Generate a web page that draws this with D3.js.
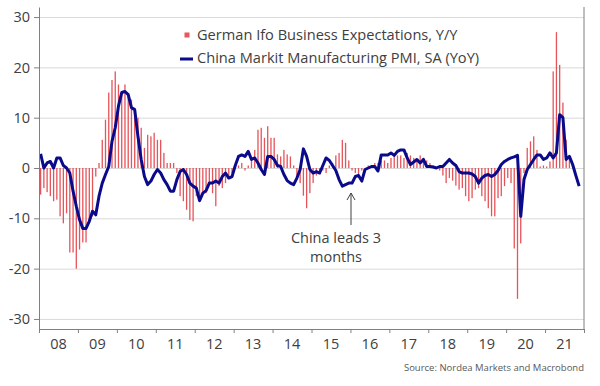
<!DOCTYPE html>
<html>
<head>
<meta charset="utf-8">
<script src="https://cdn.jsdelivr.net/npm/d3@7"></script>
<style>
  body { margin: 0; background: #fff; }
  text { font-family: "Open Sans", sans-serif; fill: #404040; }
</style>
</head>
<body>
<script>
// year labels on the x axis (one per year, Jan 2008 - Dec 2021)
var years = ["08", "09", "10", "11", "12", "13", "14", "15", "16", "17", "18", "19", "20", "21"];
var yTicks = [-30, -20, -10, 0, 10, 20, 30];

// German Ifo Business Expectations, Y/Y - monthly from Jan 2008
var ifoYoY = [
  -5.3, -4, -4.8, -5.6, -6.6, -6.3, -9.6, -11, -9, -16.8, -16.8, -20,
  -16.2, -14.8, -14.8, -11, -9.6, -1.7, 1, 5.6, 9.6, 15, 17.5, 19.2,
  16.6, 15, 16.6, 14.2, 13.6, 11.6, 10, 8, 4, 6.6, 6.3, 7,
  5.6, 5.6, 3, 1, 1, 1, -1, -5.6, -6.6, -8.3, -10.3, -10.6,
  -5.6, -6.6, -5, -5, -3, -5, -7.6, -3.6, -4, -3, -2, -1,
  0.3, 0.5, 1, -0.5, 0.5, 1.5, 3.6, 7.6, 8, 6, 8.3, 6,
  6, 2.7, 2.3, 3.6, 2.7, 2.3, 0.5, -1.5, -3, -5.5, -8, -5,
  -3, -1.5, -0.5, -0.5, -1, 0.5, 1, 2.5, 3, 5.6, 5, 1.5,
  -0.5, -1, -1.5, -0.5, 0, 0.5, 0.5, 1, 1, 1.5, 1.5, 1,
  2, 2.5, 2.5, 2.5, 2, 3, 2.5, 2, 1.5, 2.5, 2, 1.5,
  1, 0.5, 0, -0.5, -1.5, -3, -2, -2.5, -3.5, -4.3, -4, -5.6,
  -6.6, -6, -4.3, -4, -5.6, -6.6, -8, -9.6, -9.6, -6, -5.6, -3.6,
  -2, -3, -16, -26, -15, -1, 4, 5.3, 6.3, 3.6, 0.3, 0.5,
  0.3, 1.3, 19.2, 27, 20.5, 13, 5.6, 2.3
];

// China Markit Manufacturing PMI, SA (YoY), shifted 3 months - monthly from Jan 2008
var chinaPmiYoY = [
  2.8, 0, 1, 1.3, 0, 2, 2, 0.5, 0, -1, -4.6, -7.6,
  -10.3, -12, -12, -10.6, -8.6, -9.3, -5.6, -3, -1.3, 0.3, 5.3, 8,
  12.3, 15, 15.2, 14.6, 12, 11.6, 6.3, 1.7, -1.7, -3.3, -2.6, -1.3,
  -0.3, -1, -2.3, -3.3, -4.6, -4.6, -2.3, -0.7, -0.3, -1.3, -3, -3.6,
  -4, -6.5, -5, -4.5, -3, -3, -2.6, -3, -1.7, -1, -2, -1.7,
  0.5, 2.3, 2.6, 2.3, 3.3, 1.7, 2, 1, -0.3, -1.3, 2.3, 2.3,
  1.7, 0.5, 0.3, -1.3, -2.5, -3, -3.3, -2, -0.3, 3.8, 2.3, -0.3,
  -1, -0.7, -1, 0.5, 2, 1.5, 0.5, -0.5, -2.3, -3.6, -3.3, -3,
  -3, -1.7, -1.5, -2.6, -0.3, 0, 0.3, 0.3, -0.6, 2.6, 2.6, 2.6,
  3, 2.5, 3.3, 3.6, 3.6, 2, 0.7, 1.2, 1.7, 1, 1.7, 0.3,
  0.3, 0.2, 0, 0.3, 0.3, 1, 1.7, 1, 0.5, -0.7, -1, -1,
  -1, -1.2, -1.7, -3, -2, -1.5, -1.3, -1.7, -1.3, -0.5, 0.7, 1.3,
  1.7, 2, 2.2, 2.5, -9.6, -2.3, -0.3, 0.7, 1.7, 2.6, 2.6, 1.7,
  2, 3, 2, 3, 10.6, 10, 1.7, 2.3, 0.7, -1.5, -3.6
];

var svgWidth = 600;
var svgHeight = 386;

var margin = { top: 7, right: 16, bottom: 57, left: 39 };

var chartWidth = svgWidth - margin.left - margin.right;
var chartHeight = svgHeight - margin.top - margin.bottom;

var svg = d3.select("body")
  .append("svg")
  .attr("width", svgWidth)
  .attr("height", svgHeight);

var chartGroup = svg.append("g")
  .attr("transform", `translate(${margin.left}, ${margin.top})`);

// month index scale: 0 = Jan 2008, 168 = Jan 2022
var xScale = d3.scaleLinear()
  .domain([0, years.length * 12])
  .range([0, chartWidth]);

var yScale = d3.scaleLinear()
  .domain([-32, 32])
  .range([chartHeight, 0]);

// gridlines
chartGroup.append("g")
  .attr("class", "grid")
  .call(d3.axisLeft(yScale).tickValues(yTicks).tickSize(-chartWidth).tickFormat(""))
  .call(g => g.select(".domain").remove())
  .call(g => g.selectAll("line").attr("stroke", "#d9d9d9"));

// Ifo bars
chartGroup.selectAll("rect.ifo")
  .data(ifoYoY)
  .enter()
  .append("rect")
  .attr("class", "ifo")
  .attr("x", (d, i) => xScale(i + 0.5) - 0.65)
  .attr("width", 1.3)
  .attr("y", d => yScale(Math.max(0, d)))
  .attr("height", d => Math.abs(yScale(d) - yScale(0)))
  .attr("fill", "#e5545a");

// China PMI line
var line = d3.line()
  .x((d, i) => xScale(i + 0.5))
  .y(d => yScale(d));

chartGroup.append("path")
  .datum(chinaPmiYoY)
  .attr("d", line)
  .attr("fill", "none")
  .attr("stroke", "#0a0a8a")
  .attr("stroke-width", 3)
  .attr("stroke-linejoin", "round");

// left axis
var leftAxis = d3.axisLeft(yScale).tickValues(yTicks).tickSize(5).tickSizeOuter(0).tickPadding(4);
chartGroup.append("g")
  .call(leftAxis)
  .call(g => g.select(".domain").attr("stroke", "#808080"))
  .call(g => g.selectAll(".tick line").attr("stroke", "#808080"))
  .call(g => g.selectAll("text").attr("font-size", "14.5px").attr("fill", "#404040")
    .attr("font-family", "'Open Sans', sans-serif").text(d => d < 0 ? "-" + Math.abs(d) : d));

// bottom axis (ticks at year boundaries)
var bottomAxis = d3.axisBottom(xScale)
  .tickValues(d3.range(0, years.length * 12 + 1, 12))
  .tickSize(4).tickSizeOuter(0).tickFormat("");
chartGroup.append("g")
  .attr("transform", "translate(0, " + chartHeight + ")")
  .call(bottomAxis)
  .call(g => g.select(".domain").attr("stroke", "#808080"))
  .call(g => g.selectAll(".tick line").attr("stroke", "#808080"));

// year labels, centred between ticks
chartGroup.selectAll("text.year")
  .data(years)
  .enter()
  .append("text")
  .attr("class", "year")
  .attr("x", (d, i) => xScale(i * 12 + 6))
  .attr("y", chartHeight + 20)
  .attr("text-anchor", "middle")
  .attr("font-size", "14.5px")
  .text(d => d);

// right border
chartGroup.append("line")
  .attr("x1", chartWidth).attr("x2", chartWidth)
  .attr("y1", 0).attr("y2", chartHeight)
  .attr("stroke", "#808080");

// legend
var legend = svg.append("g").attr("transform", "translate(180, 0)");
legend.append("rect")
  .attr("x", 4.5).attr("y", 32.5).attr("width", 5).attr("height", 5)
  .attr("fill", "#e8555a");
legend.append("text")
  .attr("x", 17).attr("y", 40)
  .attr("font-size", "14.6px")
  .text("German Ifo Business Expectations, Y/Y");
legend.append("line")
  .attr("x1", 0).attr("x2", 13).attr("y1", 59).attr("y2", 59)
  .attr("stroke", "#0a0a8a").attr("stroke-width", 3);
legend.append("text")
  .attr("x", 17).attr("y", 63)
  .attr("font-size", "14.6px")
  .text("China Markit Manufacturing PMI, SA (YoY)");

// annotation
var note = svg.append("g");
note.append("line")
  .attr("x1", 351).attr("x2", 351).attr("y1", 225).attr("y2", 193)
  .attr("stroke", "#404040");
note.append("path")
  .attr("d", "M347,200 L351,193 L355,200")
  .attr("fill", "none").attr("stroke", "#404040");
note.append("text")
  .attr("x", 336).attr("y", 243)
  .attr("text-anchor", "middle").attr("font-size", "14.5px")
  .text("China leads 3");
note.append("text")
  .attr("x", 336).attr("y", 262)
  .attr("text-anchor", "middle").attr("font-size", "14.5px")
  .text("months");

// source
svg.append("text")
  .attr("x", 584).attr("y", 371)
  .attr("text-anchor", "end")
  .attr("font-size", "9.5px")
  .style("fill", "#595959")
  .text("Source: Nordea Markets and Macrobond");
</script>
</body>
</html>
